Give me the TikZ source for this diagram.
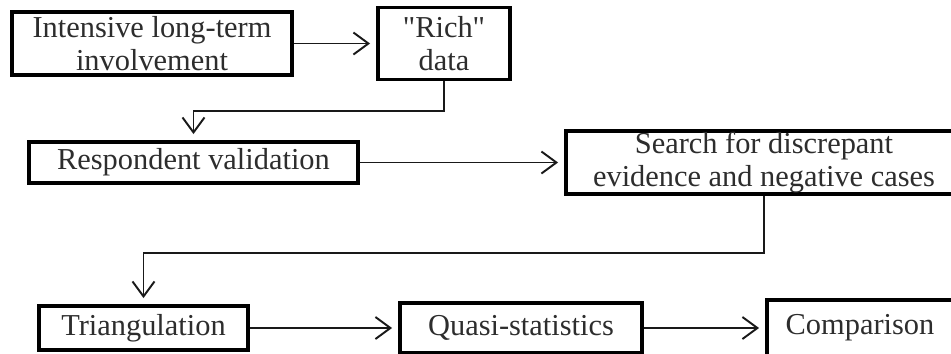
\documentclass[tikz,border=0pt]{standalone}
\usepackage{fontspec}
\setmainfont{Liberation Serif}
\usepackage{tikz}
\usetikzlibrary{arrows.meta,positioning,calc}
\usepackage{xcolor}
\definecolor{dfline}{RGB}{25,25,25}
\definecolor{dftext}{RGB}{45,45,45}
\tikzstyle{arrow} = [line width=1.1pt,-{Straight Barb[length=3mm,width=4.4mm]},shorten >=1.2mm,color=dfline]
\tikzstyle{stepbox} = [rectangle, draw=black, line width=2.2pt, inner sep=0pt, align=center, text=dftext, font=\fontsize{17.3}{18.5}\selectfont]

\begin{document}
\begin{tikzpicture}
\useasboundingbox (0,0) rectangle (19.02,-7.06);
\clip (0,0) rectangle (19.02,-7.06);
% First row
\node[stepbox, minimum width=5.6cm, minimum height=1.26cm] at (3.04,-0.87) (invol) {Intensive long-term\\involvement};
\node[stepbox, minimum width=2.64cm, minimum height=1.44cm] at (8.88,-0.87) (rich) {\textquotedbl Rich\textquotedbl\\data};

% Second row
\node[stepbox, minimum width=6.58cm, minimum height=0.82cm] at (3.87,-3.25) (resp) {Respondent validation};
\node[stepbox, minimum width=7.92cm, minimum height=1.26cm] at (15.28,-3.25) (search) {Search for discrepant\\evidence and negative cases};

% Third row
\node[stepbox, minimum width=4.18cm, minimum height=0.88cm] at (2.87,-6.56) (tri) {Triangulation};
\node[stepbox, minimum width=4.84cm, minimum height=1.0cm] at (10.42,-6.56) (quasi) {Quasi-statistics};
\node[stepbox, minimum width=3.72cm, minimum height=1.12cm] at (17.2,-6.56) (comp) {Comparison};

% Connectors
\draw[arrow] (invol) -- (rich);
\draw[arrow] (rich.south) -- ++(0,-0.6) -| (resp.north);
\draw[arrow] (resp) -- (search);
\draw[arrow] (search.south) -- ++(0,-1.14) -| (tri.north);
\draw[arrow] (tri) -- (quasi);
\draw[arrow] (quasi) -- (comp);
\end{tikzpicture}
\end{document}
